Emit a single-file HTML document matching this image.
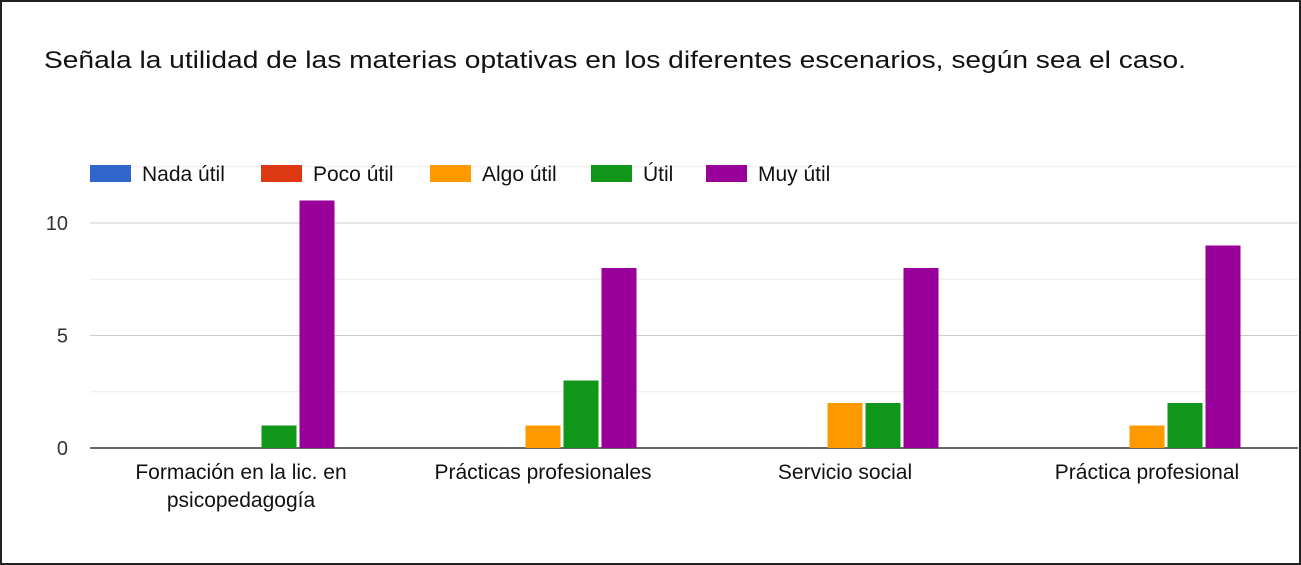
<!DOCTYPE html>
<html><head><meta charset="utf-8"><style>
body{margin:0;background:#fff;}
#wrap{position:relative;width:1301px;height:565px;box-sizing:border-box;border:2px solid #222;background:#fff;font-family:"Liberation Sans",sans-serif;}
</style></head><body>
<div id="wrap">
<svg id="chart" width="1297" height="561" style="position:absolute;left:0;top:0"></svg>
</div>
<script>
const categories=[["Formación en la lic. en","psicopedagogía"],["Prácticas profesionales"],["Servicio social"],["Práctica profesional"]];
const seriesNames=["Nada útil","Poco útil","Algo útil","Útil","Muy útil"];
const seriesColors=["#3366cc","#dc3912","#ff9900","#109618","#990099"];
const nadaUtil=[0,0,0,0];
const pocoUtil=[0,0,0,0];
const algoUtil=[0,1,2,1];
const utilVals=[1,3,2,2];
const muyUtil=[11,8,8,9];
const yTicks=[0,5,10];
const gridVals=[0,2.5,5,7.5,10,12.5];
const series=[nadaUtil,pocoUtil,algoUtil,utilVals,muyUtil];

const NS="http://www.w3.org/2000/svg";
const svg=document.getElementById('chart');
const X0=88,X1=1296,Y0=446,PPU=22.5;
const catW=(X1-X0)/categories.length;
const barW=35,barGap=3;
function y(v){return Y0-v*PPU;}
function catCenter(i){return X0+catW*(i+0.5);}
function mk(t,a){const e=document.createElementNS(NS,t);for(const k in a)e.setAttribute(k,a[k]);svg.appendChild(e);return e;}

let t=mk('text',{x:42,y:66,'font-size':24,fill:'#111',textLength:1142,lengthAdjust:'spacingAndGlyphs'});
t.textContent="Señala la utilidad de las materias optativas en los diferentes escenarios, según sea el caso.";



gridVals.forEach(v=>{
  const l=mk('line',{x1:X0,x2:X1,y1:y(v),y2:y(v),stroke:v===0?'#333':(v%5===0?'#ccc':'#ebebeb'),'stroke-width':v===0?1.5:1});
  
  
});
yTicks.forEach(v=>{
  const e=mk('text',{x:66,y:y(v)+7,'font-size':20,fill:'#333','text-anchor':'end'});
  e.textContent=v;
  
  
});

const legX=[88,259,428,589,704];
seriesNames.forEach((n,i)=>{
  const r=mk('rect',{x:legX[i],y:163,width:41,height:17,fill:seriesColors[i]});
  
  
  const e=mk('text',{x:legX[i]+52,y:179,'font-size':21,fill:'#111'});
  e.textContent=n;
  
  
});

categories.forEach((c,i)=>{
  const cx=catCenter(i);
  series.forEach((s,j)=>{
    const v=s[i];if(v<=0)return;
    const bx=cx-barW/2+(j-2)*(barW+barGap);
    const r=mk('rect',{x:bx,y:y(v),width:barW,height:v*PPU,fill:seriesColors[j]});
    
    
  });
  c.forEach((line,k)=>{
    const e=mk('text',{x:cx,y:477+k*28,'font-size':21,fill:'#111','text-anchor':'middle'});
    e.textContent=line;
    
    
  });
});
</script>
</body></html>
